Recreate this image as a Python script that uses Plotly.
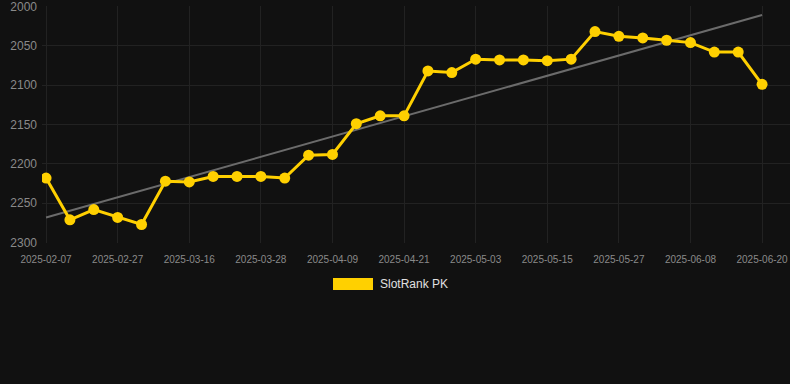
import numpy as np
import plotly.graph_objects as go

dates = ["2025-02-07", "2025-02-14", "2025-02-21", "2025-02-27", "2025-03-04", "2025-03-10",
         "2025-03-16", "2025-03-20", "2025-03-24", "2025-03-28", "2025-04-01", "2025-04-05",
         "2025-04-09", "2025-04-13", "2025-04-17", "2025-04-21", "2025-04-25", "2025-04-29",
         "2025-05-03", "2025-05-07", "2025-05-11", "2025-05-15", "2025-05-19", "2025-05-23",
         "2025-05-27", "2025-05-31", "2025-06-04", "2025-06-08", "2025-06-12", "2025-06-16",
         "2025-06-20"]
ranks = [2218, 2271, 2258, 2268, 2277, 2222, 2223, 2216, 2216, 2216, 2218, 2189,
         2188, 2149, 2139, 2139, 2082, 2084, 2067, 2068, 2068, 2069, 2067, 2032,
         2038, 2040, 2043, 2046, 2058, 2058, 2099]
tick_labels = dates[::3]
y_ticks = [2000, 2050, 2100, 2150, 2200, 2250, 2300]
series_name = "SlotRank PK"

idx = np.arange(len(ranks))
slope, intercept = np.polyfit(idx, ranks, 1)
trend = slope * idx + intercept

FONT = "Liberation Sans, Arial, sans-serif"

fig = go.Figure()
fig.add_trace(go.Scatter(x=dates, y=trend, mode="lines",
                         line=dict(color="#6b6b6b", width=2), showlegend=False, hoverinfo="skip"))
fig.add_trace(go.Scatter(x=dates, y=ranks, mode="lines+markers", name=series_name,
                         line=dict(color="#FFD000", width=3),
                         marker=dict(color="#FFD000", size=11), showlegend=False))

fig.add_shape(type="rect", xref="paper", yref="paper", x0=(333-42)/748, x1=(373-42)/748,
              y0=(243-290)/237, y1=(243-278)/237, fillcolor="#FFD000", line=dict(width=0))
fig.add_annotation(xref="paper", yref="paper", x=(378-42)/748, y=(243-284)/237,
                   xanchor="left", yanchor="middle", text=series_name, showarrow=False,
                   font=dict(family=FONT, size=12, color="#e0e0e0"))

fig.update_layout(
    width=790, height=384,
    paper_bgcolor="#111111", plot_bgcolor="#111111",
    margin=dict(l=42, r=0, t=6, b=141),
    font=dict(family=FONT, color="#8a8a8a"),
    xaxis=dict(type="category", range=[-0.17, 31.17], tickmode="array", tickvals=tick_labels,
               ticktext=tick_labels, tickfont=dict(size=10, color="#8a8a8a"),
               showgrid=True, gridcolor="#222222", gridwidth=1, zeroline=False,
               showline=False, ticks="", ticklabelstandoff=9, ticklabeloverflow="allow"),
    yaxis=dict(range=[2300.5, 1999.5], tickvals=y_ticks, tickfont=dict(size=12, color="#8a8a8a"),
               showgrid=True, gridcolor="#222222", gridwidth=1, zeroline=False,
               showline=False, ticks="", ticklabelstandoff=4, ticklabeloverflow="allow"),
    showlegend=False,
)

fig.write_html("out.html", config={"displayModeBar": False},
               post_script="document.body.style.margin='0';document.body.style.background='#111111';")
